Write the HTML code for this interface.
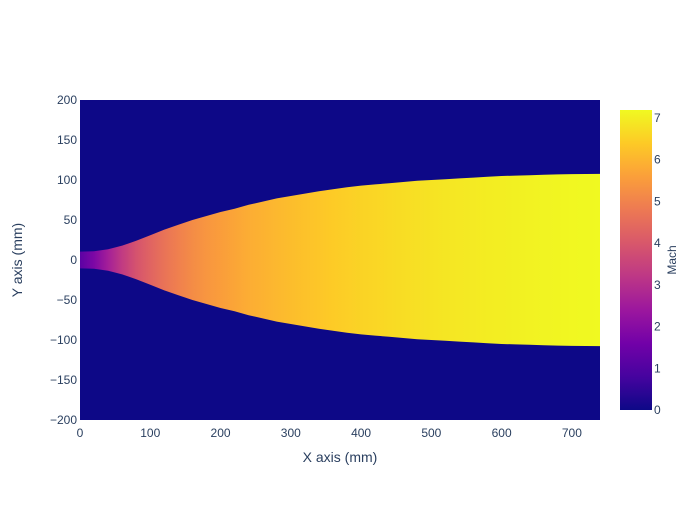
<!DOCTYPE html>
<html><head><meta charset="utf-8"><style>
body{margin:0;background:#fff;font-family:"Liberation Sans",sans-serif}
text{font-family:"Liberation Sans",sans-serif;fill:#2a3f5f}
</style></head><body>
<svg id="c" width="700" height="500"></svg>
<script>
const xs=[0,20,40,60,80,100,120,140,160,180,200,220,240,260,280,300,320,340,360,380,400,420,440,460,480,500,520,540,560,580,600,620,640,660,680,700,720,740];
const radius=[10.4,11,13.5,18,24,31,38,44,50,55,60,64,69,73,77,80,83,86,88.5,91,93,94.5,96,97.5,99,100,101,102,103,104,105,105.5,106,106.5,107,107.3,107.5,107.7];
const mach=[1.2,1.8,2.6,3.3,3.9,4.3,4.65,4.95,5.2,5.4,5.55,5.7,5.85,5.95,6.05,6.15,6.25,6.32,6.4,6.47,6.55,6.6,6.66,6.72,6.77,6.82,6.86,6.9,6.94,6.98,7.01,7.04,7.07,7.1,7.13,7.15,7.17,7.19];
const xTicks=[0,100,200,300,400,500,600,700];
const yTicks=[200,150,100,50,0,-50,-100,-150,-200];
const cTicks=[0,1,2,3,4,5,6,7];
const NS="http://www.w3.org/2000/svg",svg=document.getElementById('c');
const X0=80,X1=600,Y0=100,Y1=420,xmax=740,cmax=7.19;
const sx=v=>X0+v/xmax*(X1-X0), sy=v=>Y0+(200-v)/400*(Y1-Y0);
const cb0=410,cb1=110, sc=v=>cb0-v/cmax*(cb0-cb1);
const plasma=["#0d0887","#46039f","#7201a8","#9c179e","#bd3786","#d8576b","#ed7953","#fb9f3a","#fdca26","#f0f921"];
function col(t){t=Math.max(0,Math.min(1,t));const p=t*9,i=Math.min(8,Math.floor(p)),f=p-i;
const a=plasma[i],b=plasma[i+1],h=(s,k)=>parseInt(s.substr(1+2*k,2),16);
return "rgb("+[0,1,2].map(k=>Math.round(h(a,k)+(h(b,k)-h(a,k))*f)).join(",")+")";}
function el(t,at,txt){const e=document.createElementNS(NS,t);for(const k in at)e.setAttribute(k,at[k]);if(txt!=null)e.textContent=txt;svg.appendChild(e);return e;}
const defs=el('defs',{});
const g=document.createElementNS(NS,'linearGradient');g.setAttribute('id','mg');g.setAttribute('gradientUnits','userSpaceOnUse');
g.setAttribute('x1',sx(0));g.setAttribute('x2',sx(xmax));g.setAttribute('y1',0);g.setAttribute('y2',0);
xs.forEach((x,i)=>{const s=document.createElementNS(NS,'stop');s.setAttribute('offset',x/xmax);s.setAttribute('stop-color',col(mach[i]/cmax));g.appendChild(s);});
defs.appendChild(g);
const cg=document.createElementNS(NS,'linearGradient');cg.setAttribute('id','cg');cg.setAttribute('x1',0);cg.setAttribute('x2',0);cg.setAttribute('y1',1);cg.setAttribute('y2',0);
plasma.forEach((c,i)=>{const s=document.createElementNS(NS,'stop');s.setAttribute('offset',i/9);s.setAttribute('stop-color',c);cg.appendChild(s);});
defs.appendChild(cg);
const bg=el('rect',{x:X0,y:Y0,width:X1-X0,height:Y1-Y0,fill:'#0d0887'});

let d="";xs.forEach((x,i)=>{d+=(i?"L":"M")+sx(x)+","+sy(radius[i]);});
for(let i=xs.length-1;i>=0;i--)d+="L"+sx(xs[i])+","+sy(-radius[i]);d+="Z";
const fl=el('path',{d:d,fill:'url(#mg)'});

xTicks.forEach(v=>{const t=el('text',{x:sx(v),y:Y1+17,'text-anchor':'middle','font-size':12},v);
});
yTicks.forEach(v=>{const t=el('text',{x:X0-3,y:sy(v)+4,'text-anchor':'end','font-size':12},v<0?"\u2212"+(-v):v);
});
const xt=el('text',{x:340,y:462,'text-anchor':'middle','font-size':14},'X axis (mm)');

const yt=el('text',{x:22,y:260,'text-anchor':'middle','font-size':14,transform:'rotate(-90 22 260)'},'Y axis (mm)');

const cb=el('rect',{x:620,y:cb1,width:32,height:cb0-cb1,fill:'url(#cg)'});

cTicks.forEach(v=>{const t=el('text',{x:654,y:sc(v)+4,'font-size':12},v);
});
const ct=el('text',{x:676,y:260,'text-anchor':'middle','font-size':12,transform:'rotate(-90 676 260)'},'Mach');

</script>
</body></html>
